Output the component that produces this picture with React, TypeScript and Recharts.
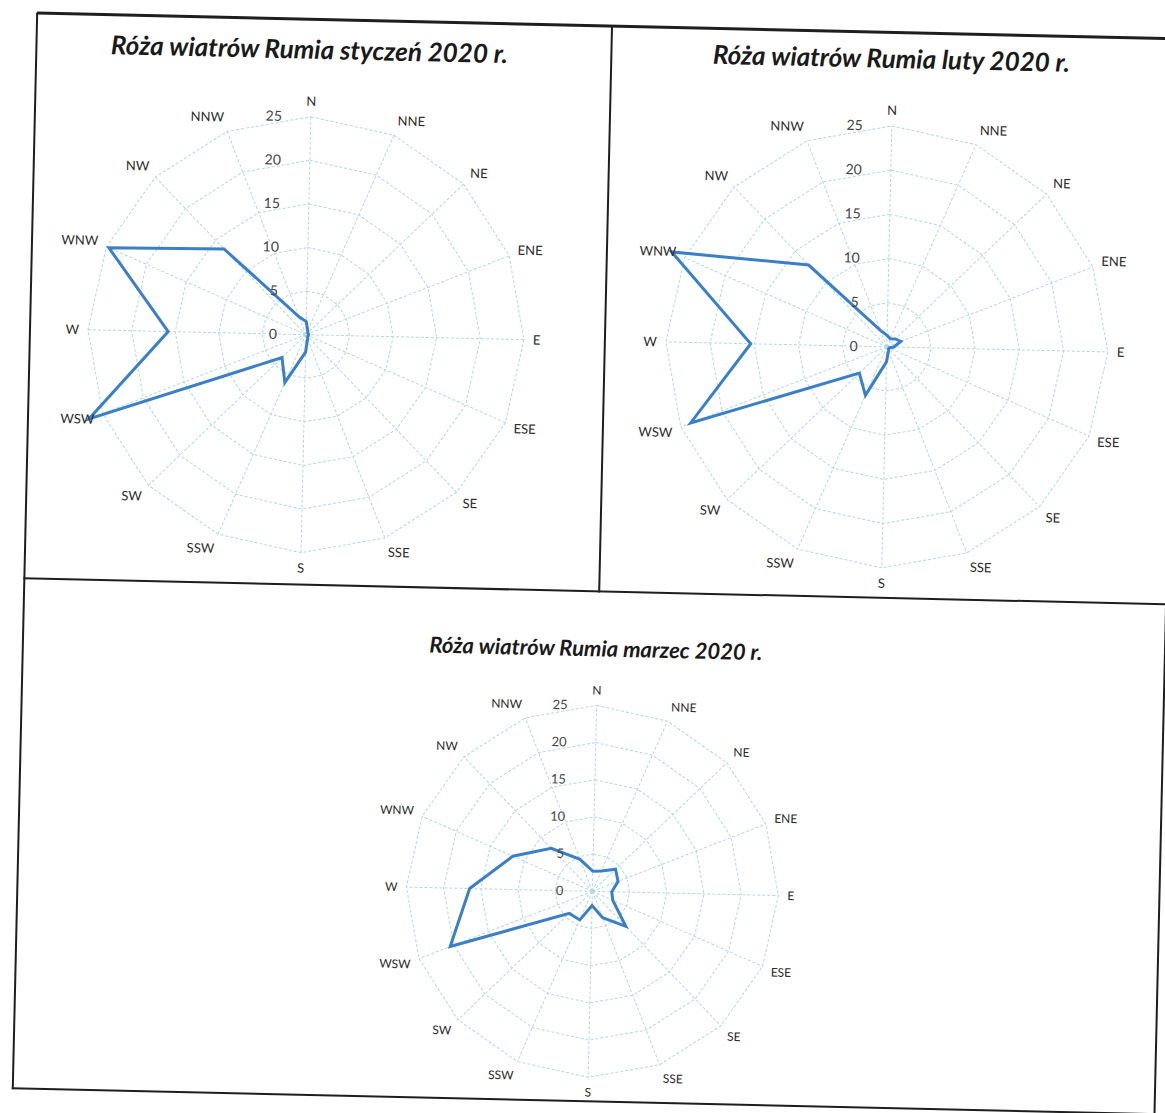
import { RadarChart, Radar, PolarGrid, PolarAngleAxis, PolarRadiusAxis } from 'recharts'

// kierunki wiatru, zgodnie z ruchem wskazówek zegara od N
const directions = ['N', 'NNE', 'NE', 'ENE', 'E', 'ESE', 'SE', 'SSE', 'S', 'SSW', 'SW', 'WSW', 'W', 'WNW', 'NW', 'NNW']

// częstość [%] dla każdego kierunku
const januaryValues = [1.5, 0.5, 0.3, 0.3, 0.3, 0.3, 0.3, 0.5, 2, 6, 3.8, 26.7, 15.8, 24.7, 13.6, 2.2]
const februaryValues = [1.3, 1, 1.3, 1.7, 0.8, 0.3, 0.3, 0.5, 1.7, 6, 4.3, 23.8, 15.4, 26.6, 12.8, 2]
const marchValues = [2.7, 3, 4.3, 3.7, 2.6, 3, 6.5, 3.8, 1.9, 4.2, 4.3, 20.5, 16.5, 11.7, 8, 4.6]

const radiusTicks = [0, 5, 10, 15, 20, 25]

const titles = ['Róża wiatrów Rumia styczeń 2020 r.', 'Róża wiatrów Rumia luty 2020 r.', 'Róża wiatrów Rumia marzec 2020 r.']

const GRID = '#b1d9e6'
const LINE = '#3b7fc6'
const FONT = 'Lato, "Open Sans", sans-serif'

function AngleTick({ x, y, payload, cx, cy, r, fs }: any) {
  const dx = x - cx
  const dy = y - cy
  const len = Math.sqrt(dx * dx + dy * dy) || 1
  const ux = dx / len
  const uy = dy / len
  const px = cx + ux * (r + 9)
  const py = cy + uy * (r + 9)
  const anchor = ux > 0.15 ? 'start' : ux < -0.15 ? 'end' : 'middle'
  const ty = py + (uy * fs) / 2 + fs * 0.35
  return (
    <text x={px} y={ty} textAnchor={anchor} fontSize={fs} fill="#2a2a2a" fontFamily={FONT}>
      {payload.value}
    </text>
  )
}

function RadiusTick({ x, y, payload, fs }: any) {
  return (
    <text x={x - 29} y={y} dy="0.35em" textAnchor="end" fontSize={fs} fill="#444" fontFamily={FONT}>
      {payload.value}
    </text>
  )
}

interface WindRoseProps {
  values: number[]
  width: number
  height: number
  cx: number
  cy: number
  r: number
  labelSize: number
  tickSize: number
}

function WindRose({ values, width, height, cx, cy, r, labelSize, tickSize }: WindRoseProps) {
  const data = directions.map((dir, i) => ({ dir, value: values[i] }))
  return (
    <RadarChart width={width} height={height} data={data} cx={cx} cy={cy} outerRadius={r} style={{ overflow: 'visible' }}>
      <PolarGrid stroke={GRID} strokeDasharray="3 2" />
      <PolarAngleAxis
        dataKey="dir"
        tickLine={false}
        axisLine={false}
        tick={(p: any) => <AngleTick {...p} cx={cx} cy={cy} r={r} fs={labelSize} />}
      />
      <PolarRadiusAxis
        angle={90}
        domain={[0, 25]}
        ticks={radiusTicks as any}
        tickCount={6}
        allowDataOverflow
        axisLine={false}
        tickLine={false}
        tick={(p: any) => <RadiusTick {...p} fs={tickSize} />}
      />
      <Radar dataKey="value" stroke={LINE} strokeWidth={3} fill="none" fillOpacity={0} dot={false} isAnimationActive={false} />
    </RadarChart>
  )
}

const line = (left: number, top: number, width: number, height: number) => (
  <div style={{ position: 'absolute', left, top, width, height, background: '#1e1e1e' }} />
)

const titleStyle = (cx: number, cy: number, size: number): React.CSSProperties => ({
  position: 'absolute',
  left: cx - 300,
  top: cy - 16,
  width: 600,
  textAlign: 'center',
  fontFamily: FONT,
  fontWeight: 700,
  fontStyle: 'italic',
  fontSize: size,
  color: '#1a1a1a',
  lineHeight: '32px',
})

export default function App() {
  return (
    <div style={{ position: 'absolute', left: 0, top: 0, width: 1165, height: 1113, background: '#fff', overflow: 'hidden' }}>
      <div style={{ position: 'absolute', left: 0, top: 0, width: 1165, height: 1113, transform: 'rotate(1.3deg)', transformOrigin: '582px 556px' }}>
        {/* ramki */}
        {line(25, 24, 1160, 3)}
        {line(24, 25, 2, 1077)}
        {line(599, 25, 2, 567)}
        {line(24, 590, 1160, 2)}
        {line(1166, 590, 2, 512)}
        {line(24, 1100, 1144, 2)}

        <div style={titleStyle(298, 55, 26)}>{titles[0]}</div>
        <div style={titleStyle(880, 51, 26)}>{titles[1]}</div>
        <div style={titleStyle(598, 648, 22)}>{titles[2]}</div>

        <div style={{ position: 'absolute', left: 30, top: 60 }}>
          <WindRose values={januaryValues} width={560} height={525} cx={271} cy={281} r={218} labelSize={13} tickSize={14} />
        </div>
        <div style={{ position: 'absolute', left: 605, top: 60 }}>
          <WindRose values={februaryValues} width={555} height={528} cx={277} cy={280} r={221} labelSize={13} tickSize={14} />
        </div>
        <div style={{ position: 'absolute', left: 300, top: 665 }}>
          <WindRose values={marchValues} width={600} height={432} cx={300} cy={226} r={186} labelSize={12} tickSize={13} />
        </div>
      </div>
    </div>
  )
}
